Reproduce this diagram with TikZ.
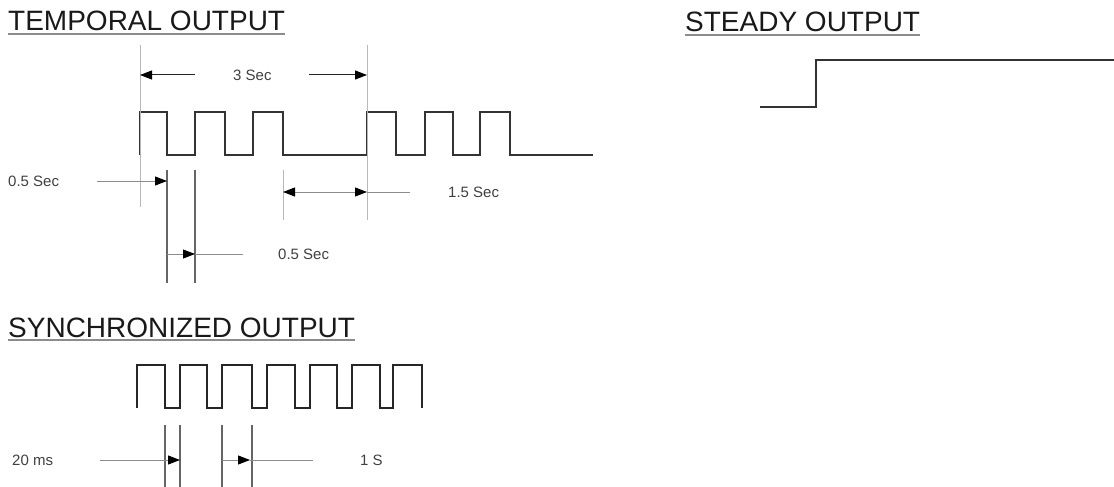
\documentclass[tikz,border=0pt]{standalone}
\usepackage{fontspec}
\setmainfont{Liberation Sans}
\usetikzlibrary{arrows.meta}
\begin{document}
\begin{tikzpicture}[x=1pt,y=-1pt,
  wave/.style={line width=2pt, color=black!80, line join=miter},
  swave/.style={line width=1.6pt, color=black!85, line join=miter},
  title/.style={font=\fontsize{28}{28}\selectfont, text=black!90, inner sep=0pt, anchor=base west},
  uline/.style={line width=1.6pt, color=black!45},
  small/.style={font=\fontsize{15}{15}\selectfont, text=black!75, inner sep=0pt, anchor=west},
  ext/.style={line width=0.9pt, color=black!28},
  markline/.style={line width=1.1pt, color=black!60},
  lead/.style={line width=0.9pt, color=black!45},
  blk/.style={line width=1pt, color=black!85},
  tipr/.style={-{Triangle[length=12pt,width=9pt,color=black]}},
  tipb/.style={{Triangle[length=12pt,width=9pt,color=black]}-{Triangle[length=12pt,width=9pt,color=black]}}
]
\useasboundingbox (0,0) rectangle (1114,487);

% ---------- TEMPORAL OUTPUT ----------
\node[title] (tt) at (8,31) {TEMPORAL OUTPUT};
\draw[uline] ([yshift=-3pt]tt.base west) -- ([yshift=-3pt]tt.base east);

\draw[wave] (140,155) -- (140,112) -- (167,112) -- (167,155) -- (195,155) -- (195,112)
  -- (225,112) -- (225,155) -- (253,155) -- (253,112) -- (283,112) -- (283,155)
  -- (367,155) -- (367,112) -- (396,112) -- (396,155) -- (425,155) -- (425,112)
  -- (453,112) -- (453,155) -- (480,155) -- (480,112) -- (510,112) -- (510,155) -- (593,155);

% extension lines
\coordinate (e1t) at (140,45);  \coordinate (e1b) at (140,207);
\coordinate (e2t) at (367,45);  \coordinate (e2b) at (367,220);
\coordinate (e3t) at (283,170); \coordinate (e3b) at (283,220);
\draw[ext] (e1t) -- (e1b);
\draw[ext] (e2t) -- (e2b);
\draw[ext] (e3t) -- (e3b);

% 3 Sec
\node[small] (s3) at (233,75) {3 Sec};
\coordinate (s3l) at (140,75); \coordinate (s3r) at (367,75);
\draw[blk,tipr] ([xshift=-38pt]s3.west) -- (s3l);
\draw[blk,tipr] ([xshift=37pt]s3.east) -- (s3r);

% 0.5 Sec marks
\coordinate (m1t) at (167,170); \coordinate (m1b) at (167,283);
\coordinate (m2t) at (195,170); \coordinate (m2b) at (195,283);
\draw[markline] (m1t) -- (m1b);
\draw[markline] (m2t) -- (m2b);

\node[small] (h1) at (8,181) {0.5 Sec};
\coordinate (h1a) at (167,181);
\draw[lead,tipr] ([xshift=38pt]h1.east) -- (h1a);

\node[small] (h2) at (278,254) {0.5 Sec};
\coordinate (h2s) at (167,254); \coordinate (h2a) at (195,254);
\draw[lead,tipr] (h2s) -- (h2a);
\draw[lead] (h2a) -- ([xshift=-35pt]h2.west);

% 1.5 Sec
\node[small] (h3) at (448,192) {1.5 Sec};
\coordinate (h3l) at (283,192); \coordinate (h3r) at (367,192);
\draw[lead,tipb] (h3l) -- (h3r);
\draw[lead] (h3r) -- ([xshift=-38pt]h3.west);

% ---------- STEADY OUTPUT ----------
\node[title] (st) at (685,32) {STEADY OUTPUT};
\draw[uline] ([yshift=-3pt]st.base west) -- ([yshift=-3pt]st.base east);
\draw[wave] (760,107) -- (816,107) -- (816,60) -- (1114,60);

% ---------- SYNCHRONIZED OUTPUT ----------
\node[title] (sy) at (8,337) {SYNCHRONIZED OUTPUT};
\draw[uline] ([yshift=-3pt]sy.base west) -- ([yshift=-3pt]sy.base east);

\draw[swave] (137,408) -- (137,365) -- (165,365) -- (165,408) -- (180,408) -- (180,365)
  -- (207,365) -- (207,408) -- (222,408) -- (222,365) -- (252,365) -- (252,408)
  -- (267,408) -- (267,365) -- (295,365) -- (295,408) -- (310,408) -- (310,365)
  -- (337,365) -- (337,408) -- (352,408) -- (352,365) -- (380,365) -- (380,408)
  -- (393,408) -- (393,365) -- (422,365) -- (422,408);

\coordinate (v1t) at (165,425); \coordinate (v1b) at (165,487);
\coordinate (v2t) at (180,425); \coordinate (v2b) at (180,487);
\coordinate (v3t) at (222,425); \coordinate (v3b) at (222,487);
\coordinate (v4t) at (252,425); \coordinate (v4b) at (252,487);
\draw[markline] (v1t) -- (v1b);
\draw[markline] (v2t) -- (v2b);
\draw[markline] (v3t) -- (v3b);
\draw[markline] (v4t) -- (v4b);

\node[small] (z1) at (12,460) {20 ms};
\coordinate (z1a) at (180,460);
\draw[lead,tipr] ([xshift=47pt]z1.east) -- (z1a);

\node[small] (z2) at (360,460) {1 S};
\coordinate (z2s) at (222,460); \coordinate (z2a) at (250,460);
\draw[lead,tipr] (z2s) -- (z2a);
\draw[lead] (z2a) -- ([xshift=-47pt]z2.west);
\end{tikzpicture}
\end{document}
